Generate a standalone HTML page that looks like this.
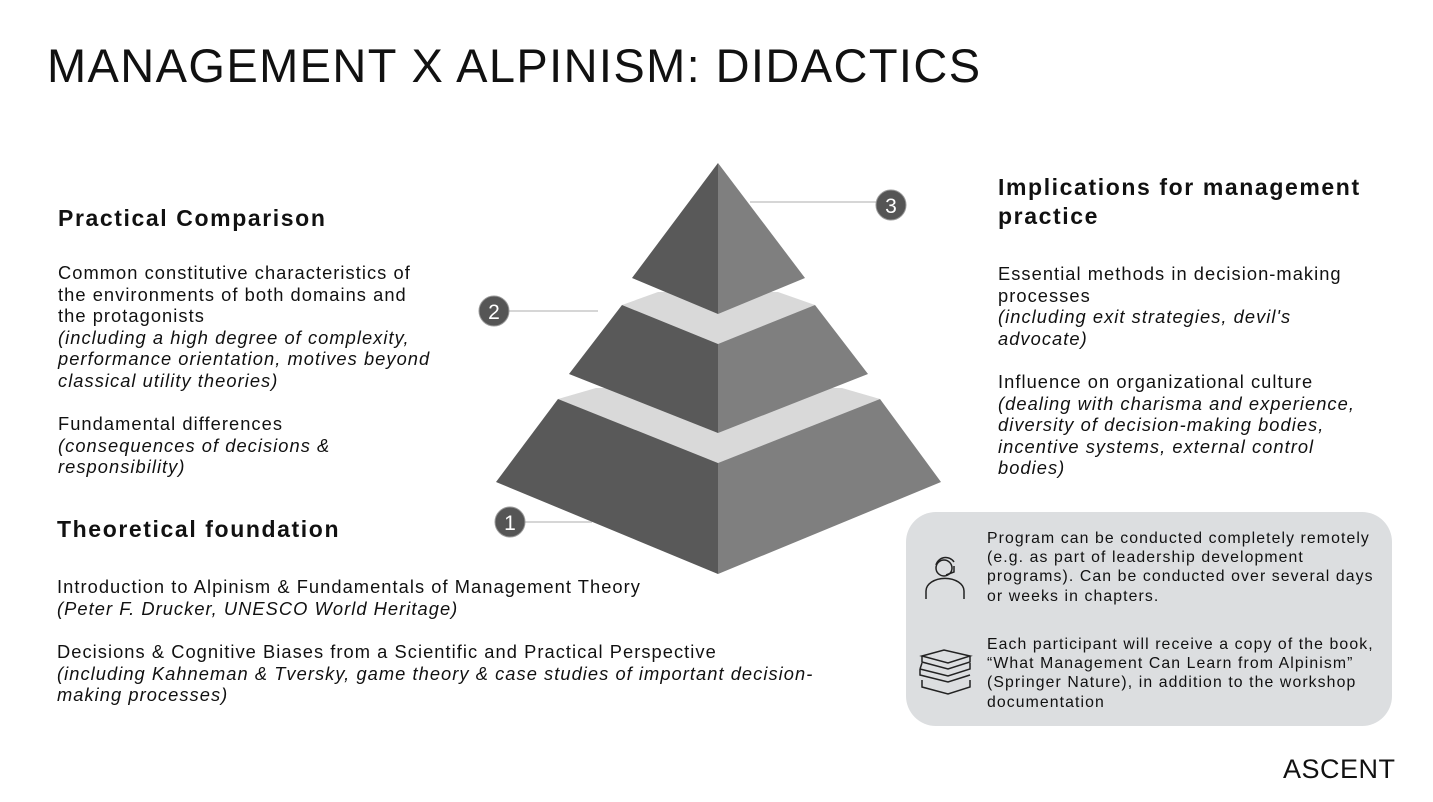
<!DOCTYPE html>
<html><head><meta charset="utf-8"><style>
body{margin:0;width:1433px;height:802px;background:#fff;position:relative;overflow:hidden;font-family:"Liberation Sans",sans-serif;color:#111}
.a{position:absolute;white-space:nowrap}
h1{position:absolute;left:47px;top:38px;margin:0;font-weight:normal;font-size:47px;letter-spacing:1.4px}
.h{font-size:23px;font-weight:bold;letter-spacing:1.6px;line-height:29px}
.t{font-size:18.3px;line-height:21.6px;letter-spacing:1.05px}
i{font-style:italic}
.box{position:absolute;left:906px;top:512px;width:486px;height:214px;background:#dcdee0;border-radius:30px}
.s{font-size:15.8px;line-height:19.2px;letter-spacing:1.1px}
</style></head><body>
<h1>MANAGEMENT X ALPINISM: DIDACTICS</h1>
<div class="a h" style="left:58px;top:204px">Practical Comparison</div>
<div class="a t" style="left:58px;top:262px">Common constitutive characteristics of<br>the environments of both domains and<br>the protagonists<br><i>(including a high degree of complexity,<br>performance orientation, motives beyond<br>classical utility theories)</i></div>
<div class="a t" style="left:58px;top:413px">Fundamental differences<br><i>(consequences of decisions &amp;<br>responsibility)</i></div>
<div class="a h" style="left:57px;top:515px">Theoretical foundation</div>
<div class="a t" style="left:57px;top:576px">Introduction to Alpinism &amp; Fundamentals of Management Theory<br><i>(Peter F. Drucker, UNESCO World Heritage)</i></div>
<div class="a t" style="left:57px;top:641px">Decisions &amp; Cognitive Biases from a Scientific and Practical Perspective<br><i>(including Kahneman &amp; Tversky, game theory &amp; case studies of important decision-<br>making processes)</i></div>
<div class="a h" style="left:998px;top:173px">Implications for management<br>practice</div>
<div class="a t" style="left:998px;top:263px">Essential methods in decision-making<br>processes<br><i>(including exit strategies, devil's<br>advocate)</i></div>
<div class="a t" style="left:998px;top:371px">Influence on organizational culture<br><i>(dealing with charisma and experience,<br>diversity of decision-making bodies,<br>incentive systems, external control<br>bodies)</i></div>
<div class="box"></div>
<div class="a s" style="left:987px;top:529px">Program can be conducted completely remotely<br>(e.g. as part of leadership development<br>programs). Can be conducted over several days<br>or weeks in chapters.</div>
<div class="a s" style="left:987px;top:635px">Each participant will receive a copy of the book,<br>“What Management Can Learn from Alpinism”<br>(Springer Nature), in addition to the workshop<br>documentation</div>
<div class="a" style="left:1283px;top:754px;font-size:27px;letter-spacing:0.5px">ASCENT</div>
<svg class="a" style="left:0;top:0" width="1433" height="802">
<g stroke="#c8c8c8" stroke-width="1.5">
<line x1="750" y1="202" x2="877" y2="202"/><line x1="509" y1="311" x2="598" y2="311"/><line x1="524" y1="522" x2="592" y2="522"/></g>
<polygon points="596,388 842,388 880,399 718,463 558,399" fill="#d9d9d9"/>
<polygon points="658,292 778,292 815,305 718,344 622,305" fill="#d9d9d9"/>
<polygon points="558,399 718,463 718,574 496,482" fill="#595959"/>
<polygon points="880,399 718,463 718,574 941,482" fill="#7f7f7f"/>
<polygon points="622,305 718,344 718,433 569,374" fill="#595959"/>
<polygon points="815,305 718,344 718,433 868,374" fill="#7f7f7f"/>
<polygon points="718,163 632,278 718,314" fill="#595959"/>
<polygon points="718,163 805,278 718,314" fill="#7f7f7f"/>
<g fill="#555" stroke="#999" stroke-width="1"><circle cx="891" cy="205" r="15"/><circle cx="494" cy="311" r="15"/><circle cx="510" cy="522" r="15"/></g>
<g fill="#fff" font-family="Liberation Sans" font-size="21" text-anchor="middle"><text x="891" y="213">3</text><text x="494" y="319">2</text><text x="510" y="530">1</text></g>
<g fill="none" stroke="#222" stroke-width="1.5">
<circle cx="944" cy="568" r="8"/><path d="M936 565 a10 10 0 0 1 18 -3 M954 566 v6 l-8 3"/>
<path d="M926 599 v-8 a18 12 0 0 1 38 0 v8"/>
<path d="M922 656 l22 -6 l26 6 l-22 7 z M922 656 v6 l26 7 l22 -7 v-6"/>
<path d="M920 669 l2 -6 M920 669 l28 7 l22 -7 v-6 M920 669 v6 l28 7 l22 -7"/>
<path d="M922 680 v7 l26 7 l22 -7 v-7"/>
</g>
</svg>
</body></html>
